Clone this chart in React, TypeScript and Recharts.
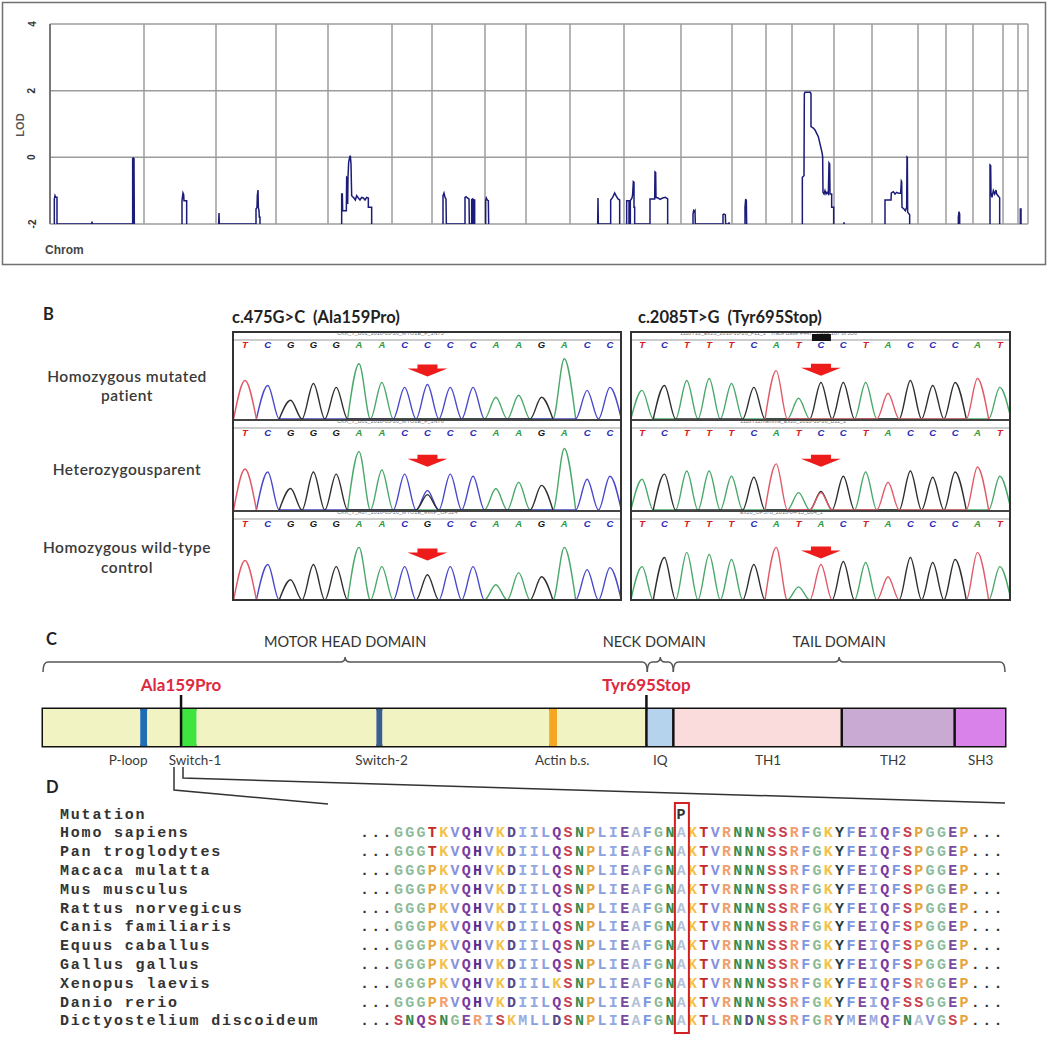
import React from "react";
import {
  Bar,
  BarChart,
  CartesianGrid,
  Line,
  LineChart,
  ReferenceArea,
  ReferenceDot,
  ReferenceLine,
  XAxis,
  YAxis,
} from "recharts";

const FIG_FONT = "Lato, 'Open Sans', sans-serif";
const MONO = "'Liberation Mono', 'DejaVu Sans Mono', monospace";
const ARIAL = "'Liberation Sans', Arial, sans-serif";

// ---------- Panel A: genome-wide LOD scan ----------
// chromosome boundaries on a cumulative genetic map (cM)
const CHR_BOUNDS = [0, 282, 498, 678, 834, 1026, 1146, 1305, 1428, 1560, 1722, 1893, 2046, 2148, 2226, 2352, 2466, 2604, 2688, 2769, 2859, 2904, 2934];
const GENOME_END = 2934;
const LOD_TICKS = [-2, 0, 2, 4];

// [position, LOD], one list per chromosome with signal
const lodChr1 = [[13, -2], [13, -1.25], [15, -1.15], [17, -1.2], [21, -1.2], [21, -2], [125, -2], [126, -1.93], [127, -2], [248, -2], [248, -0.02], [249, -2], [250, 0], [251, -2], [252, -0.02], [253, -2]];
const lodChr2 = [[396, -2], [396, -1.3], [399, -1.07], [401, -1.12], [402, -1.3], [410, -1.3], [410, -2]];
const lodChr3 = [[506, -2], [507, -1.67], [508, -2], [618, -2], [618, -1.55], [621, -1.5], [622, -1.15], [624, -0.98], [625, -1.5], [627, -1.6], [628, -1.8], [630, -1.8], [630, -2]];
const lodChr5 = [[875, -2], [875, -1.1], [877, -1.1], [878, -1.6], [889, -1.6], [890, -0.6], [892, -0.62], [893, -1.4], [894, -0.6], [896, -0.15], [899, 0], [901, 0.05], [903, -0.2], [905, -1.15], [912, -1.22], [916, -1.28], [920, -1.15], [925, -1.22], [930, -1.28], [935, -1.2], [940, -1.22], [945, -1.28], [950, -1.2], [955, -1.22], [955, -1.5], [965, -1.5], [965, -2]];
const lodChr7 = [[1179, -2], [1179, -1.15], [1182, -1.07], [1185, -1.2], [1188, -1.25], [1189, -2], [1245, -2], [1245, -1.2], [1248, -1.18], [1252, -1.22], [1257, -1.25], [1258, -2], [1265, -2], [1265, -1.27], [1268, -1.25], [1268, -2], [1270, -1.25], [1270, -2], [1272, -1.28], [1274, -1.28], [1274, -2]];
const lodChr8 = [[1307, -2], [1307, -1.3], [1309, -1.22], [1312, -1.28], [1315, -1.3], [1316, -2]];
const lodChr10 = [[1643, -2], [1644, -1.22], [1645, -2], [1682, -2], [1682, -1.28], [1688, -1.2], [1694, -1.07], [1698, -1.15], [1704, -1.25], [1709, -1.28], [1709, -2]];
const lodChr11 = [[1730, -2], [1730, -1.3], [1737, -1.3], [1737, -2], [1741, -2], [1741, -1.3], [1746, -1.22], [1748, -1.1], [1750, -0.73], [1752, -0.75], [1752, -1.5], [1754, -1.5], [1754, -2], [1800, -2], [1800, -1.25], [1814, -1.25], [1815, -0.44], [1817, -0.46], [1818, -1.2], [1824, -1.22], [1830, -1.26], [1838, -1.22], [1846, -1.2], [1853, -1.25], [1853, -2]];
const lodChr12 = [[1929, -2], [1929, -1.7], [1931, -1.6], [1933, -1.63], [1935, -1.6], [1936, -2], [2019, -2], [2019, -1.72], [2022, -1.7], [2026, -1.72], [2027, -2], [2036, -2], [2037, -1.95], [2038, -2]];
const lodChr13 = [[2085, -2], [2085, -1.5], [2087, -1.25], [2089, -1.3], [2090, -2]];
const lodChr15 = [[2257, -2], [2257, -0.6], [2262, -0.55], [2263, 1.9], [2265, 1.95], [2281, 1.95], [2283, 1.9], [2283, 0.92], [2290, 0.88], [2295, 0.82], [2300, 0.72], [2305, 0.62], [2309, 0.45], [2312, 0.32], [2316, 0.15], [2318, 0.02], [2319, -1.05], [2322, -1.1], [2325, -1.0], [2328, -1.1], [2331, -1.05], [2335, -1.1], [2337, -0.17], [2339, -0.2], [2340, -1.1], [2345, -1.1], [2345, -1.5], [2351, -1.5], [2351, -2]];
const lodChr16 = [[2381, -2], [2382, -1.95], [2383, -2]];
const lodChr17 = [[2505, -2], [2505, -1.28], [2523, -1.28], [2524, -1.07], [2530, -1.03], [2535, -1.1], [2540, -1.05], [2546, -1.08], [2552, -1.07], [2554, -0.71], [2555, -0.73], [2556, -1.5], [2562, -1.55], [2566, -1.6], [2570, -1.5], [2571, 0.01], [2572, 0], [2573, -1.65], [2579, -1.72], [2579, -2]];
const lodChr19 = [[2725, -2], [2725, -1.8], [2727, -1.63], [2729, -1.7], [2729, -2]];
const lodChr20 = [[2820, -2], [2820, -0.23], [2822, -0.25], [2823, -1.07], [2826, -1.2], [2830, -1.0], [2834, -1.1], [2838, -0.98], [2840, -1.1], [2844, -1.15], [2848, -1.2], [2849, -1.22], [2849, -2]];
const lodChr22 = [[2911, -2], [2911, -1.55], [2913, -1.55], [2913, -2]];

const LOD_RUNS = [lodChr1, lodChr2, lodChr3, lodChr5, lodChr7, lodChr8, lodChr10, lodChr11, lodChr12, lodChr13, lodChr15, lodChr16, lodChr17, lodChr19, lodChr20, lodChr22];

const lodData: { pos: number; lod: number | null }[] = [];
LOD_RUNS.forEach((run) => {
  run.forEach(([pos, lod]) => lodData.push({ pos, lod }));
  lodData.push({ pos: run[run.length - 1][0] + 0.5, lod: null });
});

function LodTick(props: any) {
  const { x, y, payload } = props;
  const tx = x - 10;
  return (
    <text x={tx} y={y} transform={`rotate(-90 ${tx} ${y})`} textAnchor="middle" dominantBaseline="central" fontSize={10} fontWeight="bold" fontFamily={ARIAL} fill="#333">
      {payload.value}
    </text>
  );
}

// vertical grid at the chromosome boundaries, placed through the x scale
function chromGrid(props: any) {
  const scale = props?.xAxis?.scale;
  if (typeof scale === "function") return CHR_BOUNDS.map((b) => scale(b));
  const off = props?.offset ?? { left: 50, width: 978 };
  return CHR_BOUNDS.map((b) => off.left + (b / GENOME_END) * off.width);
}

function LodPanel() {
  return (
    <div style={{ position: "absolute", left: 0, top: 0 }}>
      <LineChart width={1050} height={270} data={lodData} margin={{ top: 24, right: 22, bottom: 46, left: 0 }}>
        <CartesianGrid stroke="#9c9c9c" strokeWidth={1.5} verticalCoordinatesGenerator={chromGrid} />
        <XAxis type="number" dataKey="pos" domain={[0, GENOME_END]} ticks={CHR_BOUNDS} interval={0} tick={() => <g />} tickLine={false} height={0} axisLine={{ stroke: "#555", strokeWidth: 1.5 }} allowDataOverflow />
        <YAxis domain={[-2, 4]} ticks={LOD_TICKS} width={50} tickLine={false} axisLine={{ stroke: "#666", strokeWidth: 1.5 }} tick={LodTick} allowDataOverflow />
        <Line type="linear" dataKey="lod" stroke="#1b1b78" strokeWidth={1.5} dot={false} connectNulls={false} isAnimationActive={false} />
      </LineChart>
    </div>
  );
}

// ---------- Panel B: sequence traces ----------
const BASES = ["A", "C", "G", "T"];
const TRACE_COLORS: Record<string, string> = { A: "#4aa86a", C: "#4848cc", G: "#2e2e2e", T: "#e05a68" };
const CALL_COLORS: Record<string, string> = { A: "#2f9a45", C: "#2a2ab8", G: "#111", T: "#d42020" };

const LEFT_PEAKS_MUT = "TCGGGAACCCCAAGACC";
const LEFT_PEAKS_WT = "TCGGGAACGCCAAGACC";
const LEFT_H_PATIENT = [39, 34, 19, 36, 32, 56, 37, 32, 35, 32, 32, 22, 24, 22, 61, 29, 32];
const LEFT_H_PARENT = [40, 37, 21, 37, 35, 57, 39, 35, 19, 35, 33, 21, 27, 24, 60, 30, 33];
const LEFT_H_CONTROL = [39, 35, 20, 35, 33, 52, 33, 33, 25, 33, 33, 15, 27, 23, 52, 30, 32];
const LEFT_PARENT_EXTRA = { at: 8, base: "G", h: 15 };

const RIGHT_PEAKS_MUT = "AGAAAGTAGGATGGGTA";
const RIGHT_PEAKS_WT = "AGAAAGTATGATGGGTA";
const RIGHT_CALLS_MUT = "TCTTTCATCCTACCCAT";
const RIGHT_CALLS_WT = "TCTTTCATACTACCCAT";
const RIGHT_H_PATIENT = [29, 34, 39, 41, 36, 32, 49, 21, 37, 37, 37, 26, 39, 34, 37, 41, 32];
const RIGHT_H_PARENT = [30, 35, 38, 38, 33, 32, 45, 17, 18, 33, 37, 27, 38, 32, 37, 42, 33];
const RIGHT_H_CONTROL = [33, 42, 47, 45, 40, 35, 52, 13, 35, 38, 37, 23, 42, 37, 40, 47, 33];
const RIGHT_PARENT_EXTRA = { at: 8, base: "T", h: 17 };

const LEFT_ARROW = [49, 48, 45];
const RIGHT_ARROW = [50, 48, 47];
const TRACE_FILES_LEFT = ["CKK_T_B01_2010-03-26_MYO1E_F_1N73", "CKK_T_B01_2010-03-26_MYO1E_F_1N76", "CKK_T_A07_2010-03-26_MYO1E_exKP_OP524"];
const TRACE_FILES_RIGHT = ["1110T12_Ex20_2010-10-26_F11_1   Trace Base #447   Base 167 of 356", "1110T12mamma_Ex20_2010-10-26_B11_1", "Ex20_OP570_2010-04-15_B04_1"];

const ROW_TOPS = [331, 419, 510];
const ROW_HEIGHTS = [88, 91, 90];
const TRACE_TOP = 80;

type Extra = { at: number; base: string; h: number };

function channelPoints(peaks: string, heights: number[], base: string, extra?: Extra) {
  const pts: { x: number; y: number }[] = [];
  const add = (i: number, h: number) => pts.push({ x: i - 0.5, y: 0 }, { x: i, y: h }, { x: i + 0.5, y: 0 });
  peaks.split("").forEach((b, i) => {
    if (b === base) add(i, heights[i]);
  });
  if (extra && extra.base === base) add(extra.at, extra.h);
  pts.sort((a, b) => a.x - b.x);
  return pts.filter((p, i) => i === 0 || p.x !== pts[i - 1].x);
}

const callShape = (ch: string, boxed: boolean) => (p: any) => (
  <g>
    {boxed && <rect x={p.cx - 9} y={p.cy - 6} width={19} height={7} fill="#111" />}
    <text x={p.cx} y={p.cy + 8} textAnchor="middle" fontSize={9.5} fontStyle="italic" fontWeight="bold" fontFamily={ARIAL} fill={CALL_COLORS[ch] ?? "#2a2ab8"}>
      {ch}
    </text>
  </g>
);

const ArrowShape = (p: any) => {
  const { cx, cy } = p;
  const pts = [[cx - 10, cy - 6], [cx + 10, cy - 6], [cx + 10, cy - 2], [cx + 20, cy - 2], [cx, cy + 6], [cx - 20, cy - 2], [cx - 10, cy - 2]];
  return <polygon points={pts.map((q) => q.join(",")).join(" ")} fill="#ee1b1b" />;
};

function TraceRow(props: {
  left: number; top: number; width: number; height: number; domain: [number, number];
  calls: string; peaks: string; heights: number[]; extra?: Extra; arrowAt: number; arrowLevel: number;
  boxed?: number; file: string; fileX: number;
}) {
  const { left, top, width, height, domain, calls, peaks, heights, extra, arrowAt, arrowLevel, boxed, file, fileX } = props;
  return (
    <div style={{ position: "absolute", left, top, width, height }}>
      <div style={{ position: "absolute", left: fileX, top: -1, fontSize: 5.5, color: "#777", fontFamily: ARIAL, whiteSpace: "pre" }}>{file}</div>
      <LineChart width={width} height={height} margin={{ top: 9, right: 0, bottom: 0, left: 0 }}>
        <XAxis type="number" dataKey="x" domain={domain} allowDataOverflow hide />
        <YAxis hide domain={[0, TRACE_TOP]} allowDataOverflow />
        <ReferenceLine y={TRACE_TOP} stroke="#9a9a9a" strokeWidth={1.2} />
        {BASES.map((b) => (
          <Line key={b} data={channelPoints(peaks, heights, b, extra)} dataKey="y" type="monotone" stroke={TRACE_COLORS[b]} strokeWidth={1.4} dot={false} isAnimationActive={false} />
        ))}
        {calls.split("").map((ch, i) => (
          <ReferenceDot key={i} x={i} y={TRACE_TOP} shape={callShape(ch, boxed === i)} ifOverflow="visible" />
        ))}
        <ReferenceDot x={arrowAt} y={arrowLevel} shape={ArrowShape} ifOverflow="visible" />
      </LineChart>
    </div>
  );
}

function TracePanel() {
  const left = { x: 232, w: 390, dom: [-0.57, 16.53] as [number, number] };
  const right = { x: 630, w: 381, dom: [-0.54, 16.5] as [number, number] };
  const leftRows = [
    { calls: LEFT_PEAKS_MUT, peaks: LEFT_PEAKS_MUT, heights: LEFT_H_PATIENT },
    { calls: LEFT_PEAKS_MUT, peaks: LEFT_PEAKS_MUT, heights: LEFT_H_PARENT, extra: LEFT_PARENT_EXTRA },
    { calls: LEFT_PEAKS_WT, peaks: LEFT_PEAKS_WT, heights: LEFT_H_CONTROL },
  ];
  const rightRows = [
    { calls: RIGHT_CALLS_MUT, peaks: RIGHT_PEAKS_MUT, heights: RIGHT_H_PATIENT, boxed: 8 },
    { calls: RIGHT_CALLS_MUT, peaks: RIGHT_PEAKS_MUT, heights: RIGHT_H_PARENT, extra: RIGHT_PARENT_EXTRA },
    { calls: RIGHT_CALLS_WT, peaks: RIGHT_PEAKS_WT, heights: RIGHT_H_CONTROL },
  ];
  return (
    <>
      {leftRows.map((r, i) => (
        <TraceRow key={"l" + i} left={left.x} top={ROW_TOPS[i]} width={left.w} height={ROW_HEIGHTS[i]} domain={left.dom} {...r} arrowAt={8} arrowLevel={LEFT_ARROW[i]} file={TRACE_FILES_LEFT[i]} fileX={105} />
      ))}
      {rightRows.map((r, i) => (
        <TraceRow key={"r" + i} left={right.x} top={ROW_TOPS[i]} width={right.w} height={ROW_HEIGHTS[i]} domain={right.dom} {...r} arrowAt={8} arrowLevel={RIGHT_ARROW[i]} file={TRACE_FILES_RIGHT[i]} fileX={i === 0 ? 50 : 110} />
      ))}
      {[left, right].map((b, k) => (
        <div key={k} style={{ position: "absolute", left: b.x, top: 331, width: b.w, height: 270, border: "2px solid #333", boxSizing: "border-box" }}>
          <div style={{ position: "absolute", left: 0, right: 0, top: 86, borderTop: "2px solid #444" }} />
          <div style={{ position: "absolute", left: 0, right: 0, top: 177, borderTop: "2px solid #444" }} />
        </div>
      ))}
    </>
  );
}

// ---------- Panel C: MYO1E domain map (amino-acid positions) ----------
const SEG_START = [0, 112, 120, 159, 177, 384, 391, 583, 592, 696, 726, 920, 1050];
const SEG_END = [112, 120, 159, 177, 384, 391, 583, 592, 696, 726, 920, 1050, 1108];
const SEG_COLOR = ["#f1f3c2", "#1f6db4", "#f1f3c2", "#3fe43f", "#f1f3c2", "#3a5e8e", "#f1f3c2", "#f5a623", "#f1f3c2", "#b6d3ee", "#fbdcdc", "#c9aad2", "#d982ea"];
const DOMAINS = [
  { name: "MOTOR HEAD DOMAIN", from: 0, to: 696 },
  { name: "NECK DOMAIN", from: 696, to: 726 },
  { name: "TAIL DOMAIN", from: 726, to: 1108 },
];
const MUTATIONS = [
  { name: "Ala159Pro", pos: 159 },
  { name: "Tyr695Stop", pos: 695 },
];
const FEATURE_LABELS = [
  { name: "P-loop", pos: 98 },
  { name: "Switch-1", pos: 175 },
  { name: "Switch-2", pos: 390 },
  { name: "Actin b.s.", pos: 598 },
  { name: "IQ", pos: 711 },
  { name: "TH1", pos: 835 },
  { name: "TH2", pos: 979 },
  { name: "SH3", pos: 1080 },
];
const DIVIDERS = [726, 920, 1050];

const proteinRow = [
  Object.assign({ protein: "MYO1E" }, Object.fromEntries(SEG_START.map((s, i) => [`s${i}`, SEG_END[i] - s]))),
];

const braceShape = (label: string) => (p: any) => {
  const xa = p.x;
  const xb = p.x + p.width;
  const yb = p.y - 47;
  const xm = (xa + xb) / 2;
  const r = Math.min(5, (xb - xa) / 4);
  const d = `M${xa},${yb + 10} Q${xa},${yb} ${xa + r},${yb} L${xm - r},${yb} Q${xm},${yb} ${xm},${yb - 5} Q${xm},${yb} ${xm + r},${yb} L${xb - r},${yb} Q${xb},${yb} ${xb},${yb + 10}`;
  return (
    <g>
      <path d={d} fill="none" stroke="#555" strokeWidth={1.5} />
      <text x={xm - (label === "NECK DOMAIN" ? 6 : 0)} y={yb - 15} textAnchor="middle" fontSize={14.5} fontFamily={FIG_FONT} fill="#333">
        {label}
      </text>
    </g>
  );
};

const mutationShape = (label: string) => (p: any) => {
  const top = Math.min(p.y1, p.y2);
  const bot = Math.max(p.y1, p.y2);
  return (
    <g>
      <line x1={p.x1} x2={p.x1} y1={top - 14} y2={bot} stroke="#111" strokeWidth={2.5} />
      <text x={p.x1} y={top - 18} textAnchor="middle" fontSize={17} fontWeight="bold" fontFamily={FIG_FONT} fill="#dc2a40">
        {label}
      </text>
    </g>
  );
};

const featureLabelShape = (label: string) => (p: any) => (
  <text x={p.x1} y={Math.max(p.y1, p.y2) + 19} textAnchor="middle" fontSize={13.5} fontFamily={FIG_FONT} fill="#3a3a3a">
    {label}
  </text>
);

function DomainPanel() {
  return (
    <div style={{ position: "absolute", left: 0, top: 620 }}>
      <BarChart width={1050} height={170} data={proteinRow} layout="vertical" barCategoryGap={0} margin={{ top: 89, right: 45, bottom: 44, left: 43 }}>
        <XAxis type="number" domain={[0, 1108]} hide allowDataOverflow />
        <YAxis type="category" dataKey="protein" hide />
        {SEG_START.map((_, i) => (
          <Bar key={i} dataKey={`s${i}`} stackId="p" fill={SEG_COLOR[i]} isAnimationActive={false} />
        ))}
        {DIVIDERS.map((x) => (
          <ReferenceLine key={x} x={x} stroke="#111" strokeWidth={2.5} />
        ))}
        {DOMAINS.map((d) => (
          <ReferenceArea key={d.name} x1={d.from} x2={d.to} shape={braceShape(d.name)} ifOverflow="visible" />
        ))}
        {MUTATIONS.map((m) => (
          <ReferenceLine key={m.name} x={m.pos} shape={mutationShape(m.name)} ifOverflow="visible" />
        ))}
        {FEATURE_LABELS.map((f) => (
          <ReferenceLine key={f.name} x={f.pos} shape={featureLabelShape(f.name)} ifOverflow="visible" />
        ))}
        <ReferenceArea x1={0} x2={1108} fill="none" stroke="#111" strokeWidth={3} fillOpacity={0} />
      </BarChart>
    </div>
  );
}

// ---------- Panel D: alignment ----------
const SPECIES = ["Homo sapiens", "Pan troglodytes", "Macaca mulatta", "Mus musculus", "Rattus norvegicus", "Canis familiaris", "Equus caballus", "Gallus gallus", "Xenopus laevis", "Danio rerio", "Dictyostelium discoideum"];
const SEQUENCES = [
  "GGGTKVQHVKDIILQSNPLIEAFGNAKTVRNNNSSRFGKYFEIQFSPGGEP",
  "GGGTKVQHVKDIILQSNPLIEAFGNAKTVRNNNSSRFGKYFEIQFSPGGEP",
  "GGGPKVQHVKDIILQSNPLIEAFGNAKTVRNNNSSRFGKYFEIQFSPGGEP",
  "GGGPKVQHVKDIILQSNPLIEAFGNAKTVRNNNSSRFGKYFEIQFSPGGEP",
  "GGGPKVQHVKDIILQSNPLIEAFGNAKTVRNNNSSRFGKYFEIQFSPGGEP",
  "GGGPKVQHVKDIILQSNPLIEAFGNAKTVRNNNSSRFGKYFEIQFSPGGEP",
  "GGGPKVQHVKDIILQSNPLIEAFGNAKTVRNNNSSRFGKYFEIQFSPGGEP",
  "GGGPKVQHVKDIILQSNPLIEAFGNAKTVRNNNSSRFGKYFEIQFSPGGEP",
  "GGGPKVQHVKDIILKSNPLIEAFGNAKTVRNNNSSRFGKYFEIQFSRGGEP",
  "GGGPRVQHVKDIILQSNPLIEAFGNAKTVRNNNSSRFGKYFEIQFSSGGEP",
  "SNQSNGERISKMLLDSNPLIEAFGNAKTLRNDNSSRFGRYMEMQFNAVGSP",
];
const MUTATION_COL = 25;
const RESIDUE_COLORS: Record<string, string> = {
  G: "#8dbb99", P: "#e6a43a", T: "#c42a2a", K: "#f2c24a", R: "#f0a070", V: "#8890e0", Q: "#7a3aa0",
  H: "#5a2a90", D: "#56488a", I: "#92a8e2", L: "#8aa0e0", S: "#c8404e", N: "#3c8a4c", E: "#7a4aa0",
  A: "#b4c2d8", F: "#7c98e0", Y: "#1e3a40", M: "#9aaae0",
};

function Overlay() {
  const rowY = (i: number) => 818.5 + i * 18.8;
  const seqX = 360;
  const charW = 11.3;
  return (
    <svg width={1050} height={1039} style={{ position: "absolute", left: 0, top: 0, pointerEvents: "none" }}>
      {/* panel A frame + labels */}
      <rect x={2.5} y={2.5} width={1043} height={262} fill="none" stroke="#707070" strokeWidth={1.5} />
      <text x={20} y={125} transform="rotate(-90 20 125)" textAnchor="middle" dominantBaseline="central" fontSize={11} fontWeight="bold" fontFamily={ARIAL} fill="#555">LOD</text>
      <text x={45} y={254} fontSize={12} fontWeight="bold" fontFamily={ARIAL} fill="#444">Chrom</text>

      {/* panel B labels */}
      <text x={43} y={320} fontSize={16.5} fontWeight="bold" fontFamily={FIG_FONT} fill="#222">B</text>
      <text x={232} y={323} fontSize={16.5} fontWeight="bold" fontFamily={FIG_FONT} fill="#222" style={{ whiteSpace: "pre" }}>{"c.475G>C  (Ala159Pro)"}</text>
      <text x={638} y={323} fontSize={16.5} fontWeight="bold" fontFamily={FIG_FONT} fill="#222" style={{ whiteSpace: "pre" }}>{"c.2085T>G  (Tyr695Stop)"}</text>
      {[
        ["Homozygous mutated", 382],
        ["patient", 401],
        ["Heterozygousparent", 475],
        ["Homozygous wild-type", 553],
        ["control", 573],
      ].map(([t, y]) => (
        <text key={t as string} x={127} y={y as number} textAnchor="middle" fontSize={15.5} fontWeight={600} fontFamily={FIG_FONT} fill="#3a3a3a" letterSpacing={0.5}>{t}</text>
      ))}

      {/* panel C / D labels */}
      <text x={46} y={645} fontSize={16.5} fontWeight="bold" fontFamily={FIG_FONT} fill="#222">C</text>
      <text x={46} y={793} fontSize={16.5} fontWeight="bold" fontFamily={FIG_FONT} fill="#222">D</text>
      <path d="M174,767 L174,790 L328,804" fill="none" stroke="#333" strokeWidth={1.5} />
      <path d="M183,767 L183,778 L1005,803" fill="none" stroke="#333" strokeWidth={1.5} />

      {/* alignment */}
      <text x={60} y={rowY(0)} fontSize={15} fontWeight="bold" fontFamily={MONO} fill="#333" letterSpacing={1.8}>Mutation</text>
      <text x={seqX + (MUTATION_COL + 3) * charW + charW / 2 - 1.1} y={rowY(0)} textAnchor="middle" fontSize={15} fontWeight="bold" fontFamily={MONO} fill="#333">P</text>
      {SPECIES.map((s, i) => (
        <text key={s} x={60} y={rowY(i + 1)} fontSize={15} fontWeight="bold" fontFamily={MONO} fill="#333" letterSpacing={1.8} style={{ whiteSpace: "pre" }}>{s}</text>
      ))}
      {SEQUENCES.map((seq, i) => (
        <text key={i} x={seqX} y={rowY(i + 1)} fontSize={15} fontWeight="bold" fontFamily={MONO} letterSpacing={2.3}>
          <tspan fill="#333">...</tspan>
          {seq.split("").map((c, k) => (
            <tspan key={k} fill={RESIDUE_COLORS[c] ?? "#333"}>{c}</tspan>
          ))}
          <tspan fill="#333">...</tspan>
        </text>
      ))}
      <rect x={seqX + (MUTATION_COL + 3) * charW - 1.5} y={803} width={14} height={230} fill="none" stroke="#d42020" strokeWidth={2} />
    </svg>
  );
}

export default function App() {
  return (
    <div style={{ position: "absolute", left: 0, top: 0, width: 1050, height: 1039, background: "#fff", overflow: "hidden" }}>
      <LodPanel />
      <TracePanel />
      <DomainPanel />
      <Overlay />
    </div>
  );
}
